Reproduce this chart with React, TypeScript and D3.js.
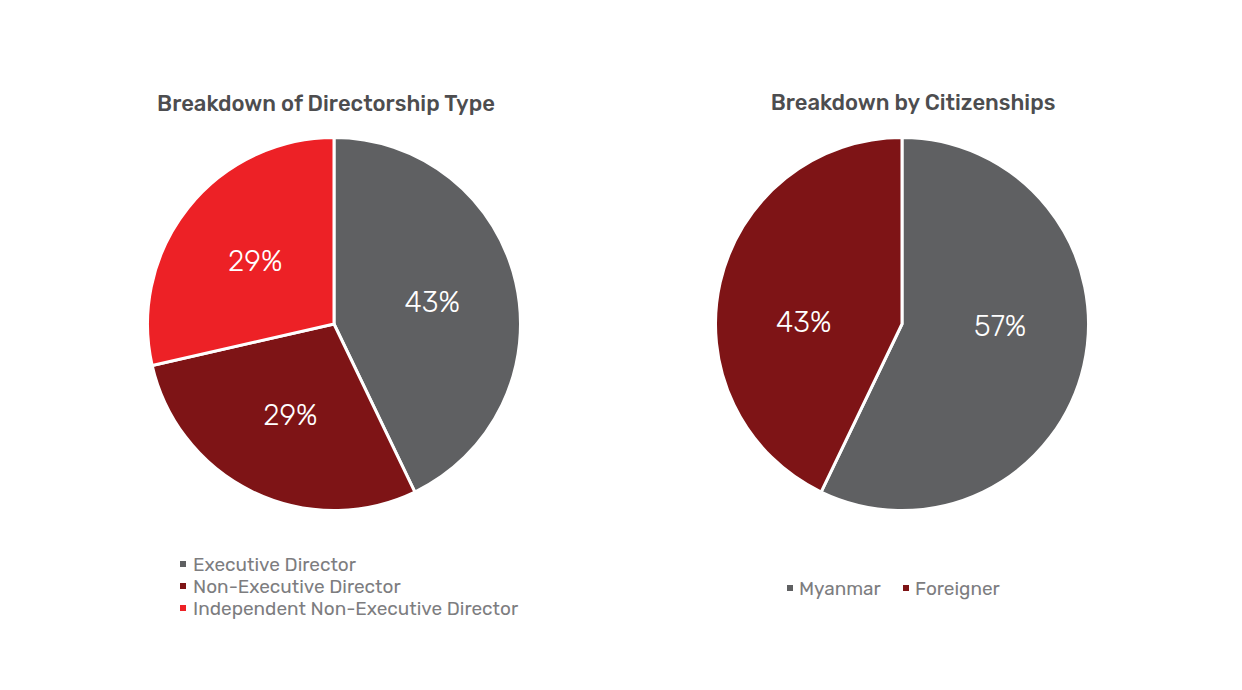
import React from "react";
import * as d3 from "d3";

const directorCategories = ["Executive Director", "Non-Executive Director", "Independent Non-Executive Director"];
const directorValues = [3, 2, 2];
const directorLabels = ["43%", "29%", "29%"];

const citizenCategories = ["Myanmar", "Foreigner"];
const citizenValues = [4, 3];
const citizenLabels = ["57%", "43%"];

const COLORS = ["#5f6062", "#7e1416", "#ed2126"];
const FONT = "Rubik, Inter, 'Noto Sans', sans-serif";

function Pie({ cx, cy, r, values, labels, flatten }: { cx: number; cy: number; r: number; values: number[]; labels: string[]; flatten: number }) {
  const pie = d3.pie<number>().sort(null).value((d) => d);
  const arcs = pie(values);
  const arc = d3.arc<d3.PieArcDatum<number>>().innerRadius(0).outerRadius(r);
  const labelArc = d3.arc<d3.PieArcDatum<number>>().innerRadius(r * 0.54).outerRadius(r * 0.54);
  return (
    <g transform={`translate(${cx},${cy})`}>
      {arcs.map((a, i) => (
        <path key={i} d={arc(a) || ""} fill={COLORS[i]} stroke="#fff" strokeWidth={3} strokeLinejoin="round" />
      ))}
      {arcs.map((a, i) => {
        const [x, y] = labelArc.centroid(a);
        return (
          <text key={i} x={x} y={y * flatten} dy="0.35em" textAnchor="middle" fill="#fff" fontSize={29} fontFamily={FONT} fontWeight={300}>
            {labels[i]}
          </text>
        );
      })}
    </g>
  );
}

export default function App() {
  return (
    <svg width={1242} height={690} style={{ display: "block", position: "absolute", left: 0, top: 0 }}>
      <rect width={1242} height={690} fill="#fff" />
      <text x={326} y={111} textAnchor="middle" fontSize={22} fontWeight={500} fill="#4d4d4f" fontFamily={FONT}>
        Breakdown of Directorship Type
      </text>
      <text x={913} y={110} textAnchor="middle" fontSize={22} fontWeight={500} fill="#4d4d4f" fontFamily={FONT}>
        Breakdown by Citizenships
      </text>
      <Pie cx={334} cy={324} r={186.5} values={directorValues} labels={directorLabels} flatten={1} />
      <Pie cx={902} cy={324} r={186.5} values={citizenValues} labels={citizenLabels} flatten={0.1} />
      {directorCategories.map((c, i) => (
        <g key={c}>
          <rect x={180} y={561 + i * 22} width={6} height={6} fill={COLORS[i]} />
          <text x={193} y={570.5 + i * 22} fontSize={19} fill="#7d7d7f" fontFamily={FONT}>
            {c}
          </text>
        </g>
      ))}
      {citizenCategories.map((c, i) => {
        const xs = [787, 903];
        return (
          <g key={c}>
            <rect x={xs[i]} y={585} width={6} height={6} fill={COLORS[i]} />
            <text x={xs[i] + 12} y={594.5} fontSize={19} fill="#7d7d7f" fontFamily={FONT}>
              {c}
            </text>
          </g>
        );
      })}
    </svg>
  );
}
